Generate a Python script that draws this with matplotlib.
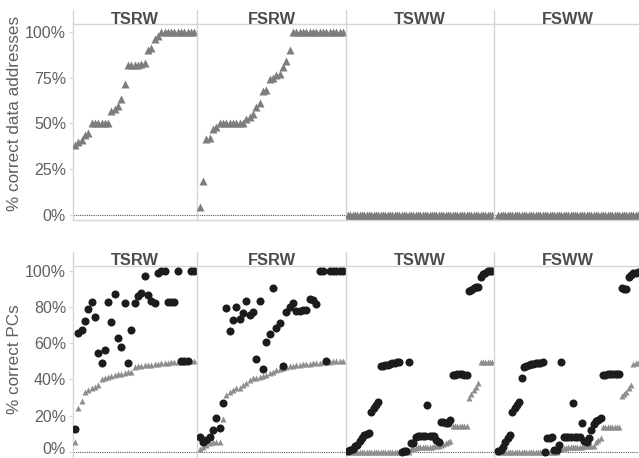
import matplotlib
matplotlib.use("Agg")
import matplotlib.pyplot as plt
import matplotlib.transforms as mtransforms
import numpy as np

plt.rcParams['font.family'] = ['Liberation Sans', 'DejaVu Sans']

# panel names
panels = ["TSRW", "FSRW", "TSWW", "FSWW"]

# top row: % correct data addresses (sorted test cases)
addr_tsrw = [38, 39.8, 40.7, 43.4, 44.7, 50, 50, 50, 50, 50, 50, 57, 58, 59.3, 63.5,
             71.7, 81.8, 82, 82, 82, 82.5, 83, 90.3, 91.4, 96.4, 98,
             100, 100, 100, 100, 100, 100, 100, 100, 100, 100, 100]
addr_fsrw = [4.2, 18.4, 41.6, 42.2, 47, 48, 50, 50, 50, 50, 50, 50, 50, 50,
             52.5, 53.5, 55.3, 59, 61, 67.7, 68.4, 74, 75, 76.3, 77.2, 80.8, 84, 90.3,
             100, 100, 100, 100, 100, 100, 100, 100, 100, 100, 100, 100, 100, 100, 100, 100]
addr_tsww = [0, 0, 0, 0, 0, 0, 0, 0, 0, 0, 0, 0, 0, 0, 0, 0, 0, 0, 0, 0, 0,
             0, 0, 0, 0, 0, 0, 0, 0, 0, 0, 0, 0, 0, 0, 0, 0, 0, 0, 0, 0, 0,
             0, 0, 0, 0, 0, 0, 0, 0, 0, 0, 0, 0, 0, 0, 0, 0, 0, 0, 0, 0, 0]
addr_fsww = [0, 0, 0, 0, 0, 0, 0, 0, 0, 0, 0, 0, 0, 0, 0, 0, 0, 0, 0, 0, 0,
             0, 0, 0, 0, 0, 0, 0, 0, 0, 0, 0, 0, 0, 0, 0, 0, 0, 0, 0, 0,
             0, 0, 0, 0, 0, 0, 0, 0, 0, 0, 0, 0, 0, 0, 0, 0, 0, 0, 0, 0]

# bottom row: % correct PCs, grey triangles and black circles
pc_tri_tsrw = [5.5, 24, 28, 32.8, 34, 35, 36, 37, 40, 41, 41.4, 42, 42.4, 42.7, 43, 43.5,
               43.8, 44.2, 46.8, 47.2, 47.5, 47.8, 48, 48.2, 48.4, 48.6, 48.8, 49, 49.2,
               49.4, 49.5, 49.6, 49.7, 49.8, 49.9, 50, 50]
pc_dot_tsrw = [12.3, 65.7, 67.2, 72, 79, 82.5, 74.4, 54.3, 48.8, 56.3, 82.5, 71.5, 87.1,
               63, 57.6, 82.3, 48.8, 67.2, 82.3, 86.2, 87.7, 97.2, 86.6, 83.2, 82.1, 98.9,
               99.6, 100, 82.6, 82.8, 83, 100, 50, 50, 50, 100, 100]

pc_tri_fsrw = [1.8, 2.8, 3.7, 4.6, 5.2, 5.5, 5.5, 18, 31.3, 32.8, 34, 35, 35.4, 36.8, 37.8,
               39.6, 40.5, 40.9, 41.4, 41.8, 42.4, 43.3, 44.2, 45, 45.7, 46.2, 46.8, 47.2,
               47.5, 47.8, 48, 48.3, 48.5, 48.7, 48.9, 49.1, 49.3, 49.5, 49.7, 49.8,
               50, 50, 50, 50]
pc_dot_fsrw = [8.3, 5.5, 6.4, 8.3, 12, 18.8, 12.9, 27, 79.6, 66.9, 72.7, 80.1, 73.5, 76.4,
               83.2, 75.5, 77, 51, 83.2, 45.7, 60.4, 64.8, 90.2, 68.1, 70.9, 47.3, 77.3,
               80.1, 82, 77.7, 77.7, 78.3, 78.5, 84.3, 83.8, 81.4, 100, 100, 50, 100, 100,
               100, 100, 100]

pc_tri_tsww = [0, 0, 0, 0, 0, 0, 0, 0, 0, 0, 0, 0, 0, 0, 0, 0, 0, 0, 0, 0, 0, 0, 0, 0, 0, 0, 0,
               1.8, 2, 2.2, 2.4, 2.5, 2.6, 2.7, 2.8, 2.8, 2.9, 3, 3.1, 3.2,
               3.7, 4.4, 5, 5.5, 6,
               14.4, 14.4, 14.4, 14.4, 14.4, 14.4, 14.4,
               29.5, 32, 34, 36, 37.8,
               49.7, 49.7, 49.7, 49.7, 49.7, 49.7]
pc_dot_tsww = [0.4, 0.9, 1.8, 3, 4, 5.9, 7.7, 9.2, 9.9, 10.1,
               22, 24, 26, 27.6,
               47.3, 47.5, 47.8, 48, 48.4, 48.8, 49, 49.4, 49.7,
               0, 0.2, 0.4, 49.7,
               4.6, 4.6, 8.3, 8.8, 8.8, 8.8, 8.8, 26, 8.8, 8.8, 8.8, 6.4, 5.5,
               16.6, 16.2, 15.7, 15.7, 17.5,
               42.4, 42.5, 42.7, 42.7, 42.7, 42.6, 42.4,
               88.8, 89.5, 90.2, 90.8, 91.2,
               96.7, 98, 99, 99.8, 100, 100]

pc_tri_fsww = [0, 0, 0, 0, 0, 0, 0, 0, 0, 0, 0, 0, 0, 0, 0, 0, 0, 0, 0, 0, 0, 0, 0, 0, 0, 0,
               1.5, 1.8, 2, 2.2, 2.4, 2.5, 2.6, 2.7, 2.8, 2.8, 2.9, 3, 3, 3.1, 3.2, 3.4,
               5.5, 6.4, 7.5,
               13.8, 13.8, 13.8, 13.8, 13.8, 13.8, 13.8, 13.8,
               31, 32, 33, 35, 37,
               48.5, 48.8, 49]
pc_dot_fsww = [0.4, 0.9, 2.8, 5.5, 7.7, 9.2, 22, 24, 26, 27.6, 40.9,
               47, 47.3, 48, 48.3, 48.5, 48.8, 49, 49.3, 49.7,
               0, 7.4, 7.4, 8.3, 0.9, 0.9, 4, 49.4,
               8.3, 8.3, 8.3, 8.3, 26.7, 8.3, 8.3, 8.3,
               15.7, 6, 5.5, 7.7, 12, 15.1, 17, 17.5, 18.4,
               42.4, 42.6, 42.7, 42.8, 42.8, 42.9, 42.9, 43,
               90.2, 89.8, 90, 96.5, 97.6, 98.5, 99, 99.5]

addr_data = [addr_tsrw, addr_fsrw, addr_tsww, addr_fsww]
tri_data = [pc_tri_tsrw, pc_tri_fsrw, pc_tri_tsww, pc_tri_fsww]
dot_data = [pc_dot_tsrw, pc_dot_fsrw, pc_dot_tsww, pc_dot_fsww]

# layout (pixels)
W, H = 639, 458
col_px = [(73, 197), (197, 346), (346, 494), (494, 642)]
xlims = [(-0.6, 36.8), (-0.8, 43.9), (-0.86, 62.7), (-1.85, 61.7)]

grid_col = '#d6d6d6'
text_col = '#5f5f5f'
head_col = '#4d4d4d'
tri_top = '#7d7d7d'
tri_bot = '#8e8e8e'
dot_col = '#1c1c1c'

fig = plt.figure(figsize=(W / 100, H / 100), dpi=100)


def px_axes(x0, y0, x1, y1):
    return fig.add_axes([x0 / W, 1 - y1 / H, (x1 - x0) / W, (y1 - y0) / H])


def style_panel(ax, first, show_bottom):
    ax.spines['right'].set_visible(False)
    for s in ['left', 'top', 'bottom']:
        ax.spines[s].set_color(grid_col)
        ax.spines[s].set_linewidth(1)
    ax.spines['bottom'].set_visible(show_bottom)
    ax.set_xticks([])
    ax.axhline(0, color='#555555', lw=0.8, ls=(0, (1, 1)), zorder=1)
    if first:
        ax.tick_params(axis='y', length=3, color=grid_col, labelcolor=text_col,
                       labelsize=11.5, pad=2)
    else:
        ax.tick_params(axis='y', left=False, labelleft=False)


def header(x0, x1, y0, y1, label):
    hx = px_axes(x0, y0, x1, y1)
    for s in ['right', 'top', 'bottom']:
        hx.spines[s].set_visible(False)
    hx.spines['left'].set_color(grid_col)
    hx.spines['left'].set_linewidth(1)
    hx.set_xticks([])
    hx.set_yticks([])
    hx.patch.set_alpha(0)
    hx.text(0.5, 0.02, label, ha='center', va='baseline', fontsize=11.8,
            fontweight='bold', color=head_col, transform=hx.transAxes)


for i, name in enumerate(panels):
    x0, x1 = col_px[i]

    # top row
    ax = px_axes(x0, 24, x1, 220)
    y = addr_data[i]
    ax.plot(np.arange(len(y)), y, '^', ms=5.6, color=tri_top, mec='none', zorder=3)
    ax.set_xlim(xlims[i])
    ax.set_ylim(-3.0, 104.4)
    ax.set_yticks([0, 25, 50, 75, 100])
    ax.set_yticklabels(['0%', '25%', '50%', '75%', '100%'])
    style_panel(ax, i == 0, True)
    header(x0, x1, 10, 24, name)

    # bottom row
    ax = px_axes(x0, 265.5, x1, 459)
    t = tri_data[i]
    d = dot_data[i]
    ax.plot(np.arange(len(t)), t, '^', ms=5.0, color=tri_bot, mec='none', zorder=3)
    ax.plot(np.arange(len(d)), d, 'o', ms=5.8, color=dot_col, mec='none', zorder=4)
    ax.set_xlim(xlims[i])
    ax.set_ylim(-4.0, 102.9)
    ax.set_yticks([0, 20, 40, 60, 80, 100])
    ax.set_yticklabels(['0%', '20%', '40%', '60%', '80%', '100%'])
    style_panel(ax, i == 0, False)
    if i == 0:
        # nudge the bottom 0% label up so it stays inside the picture
        lab = ax.get_yticklabels()[0]
        lab.set_transform(lab.get_transform() +
                          mtransforms.ScaledTranslation(0, 3.5 / 100, fig.dpi_scale_trans))
    header(x0, x1, 251.7, 265.5, name)

fig.text(15 / W, 1 - 113 / H, '% correct data addresses', rotation=90,
         ha='center', va='center', fontsize=12.3, color=text_col)
fig.text(15 / W, 1 - 359 / H, '% correct PCs', rotation=90,
         ha='center', va='center', fontsize=12.3, color=text_col)

fig.savefig('out.png', dpi=100)
